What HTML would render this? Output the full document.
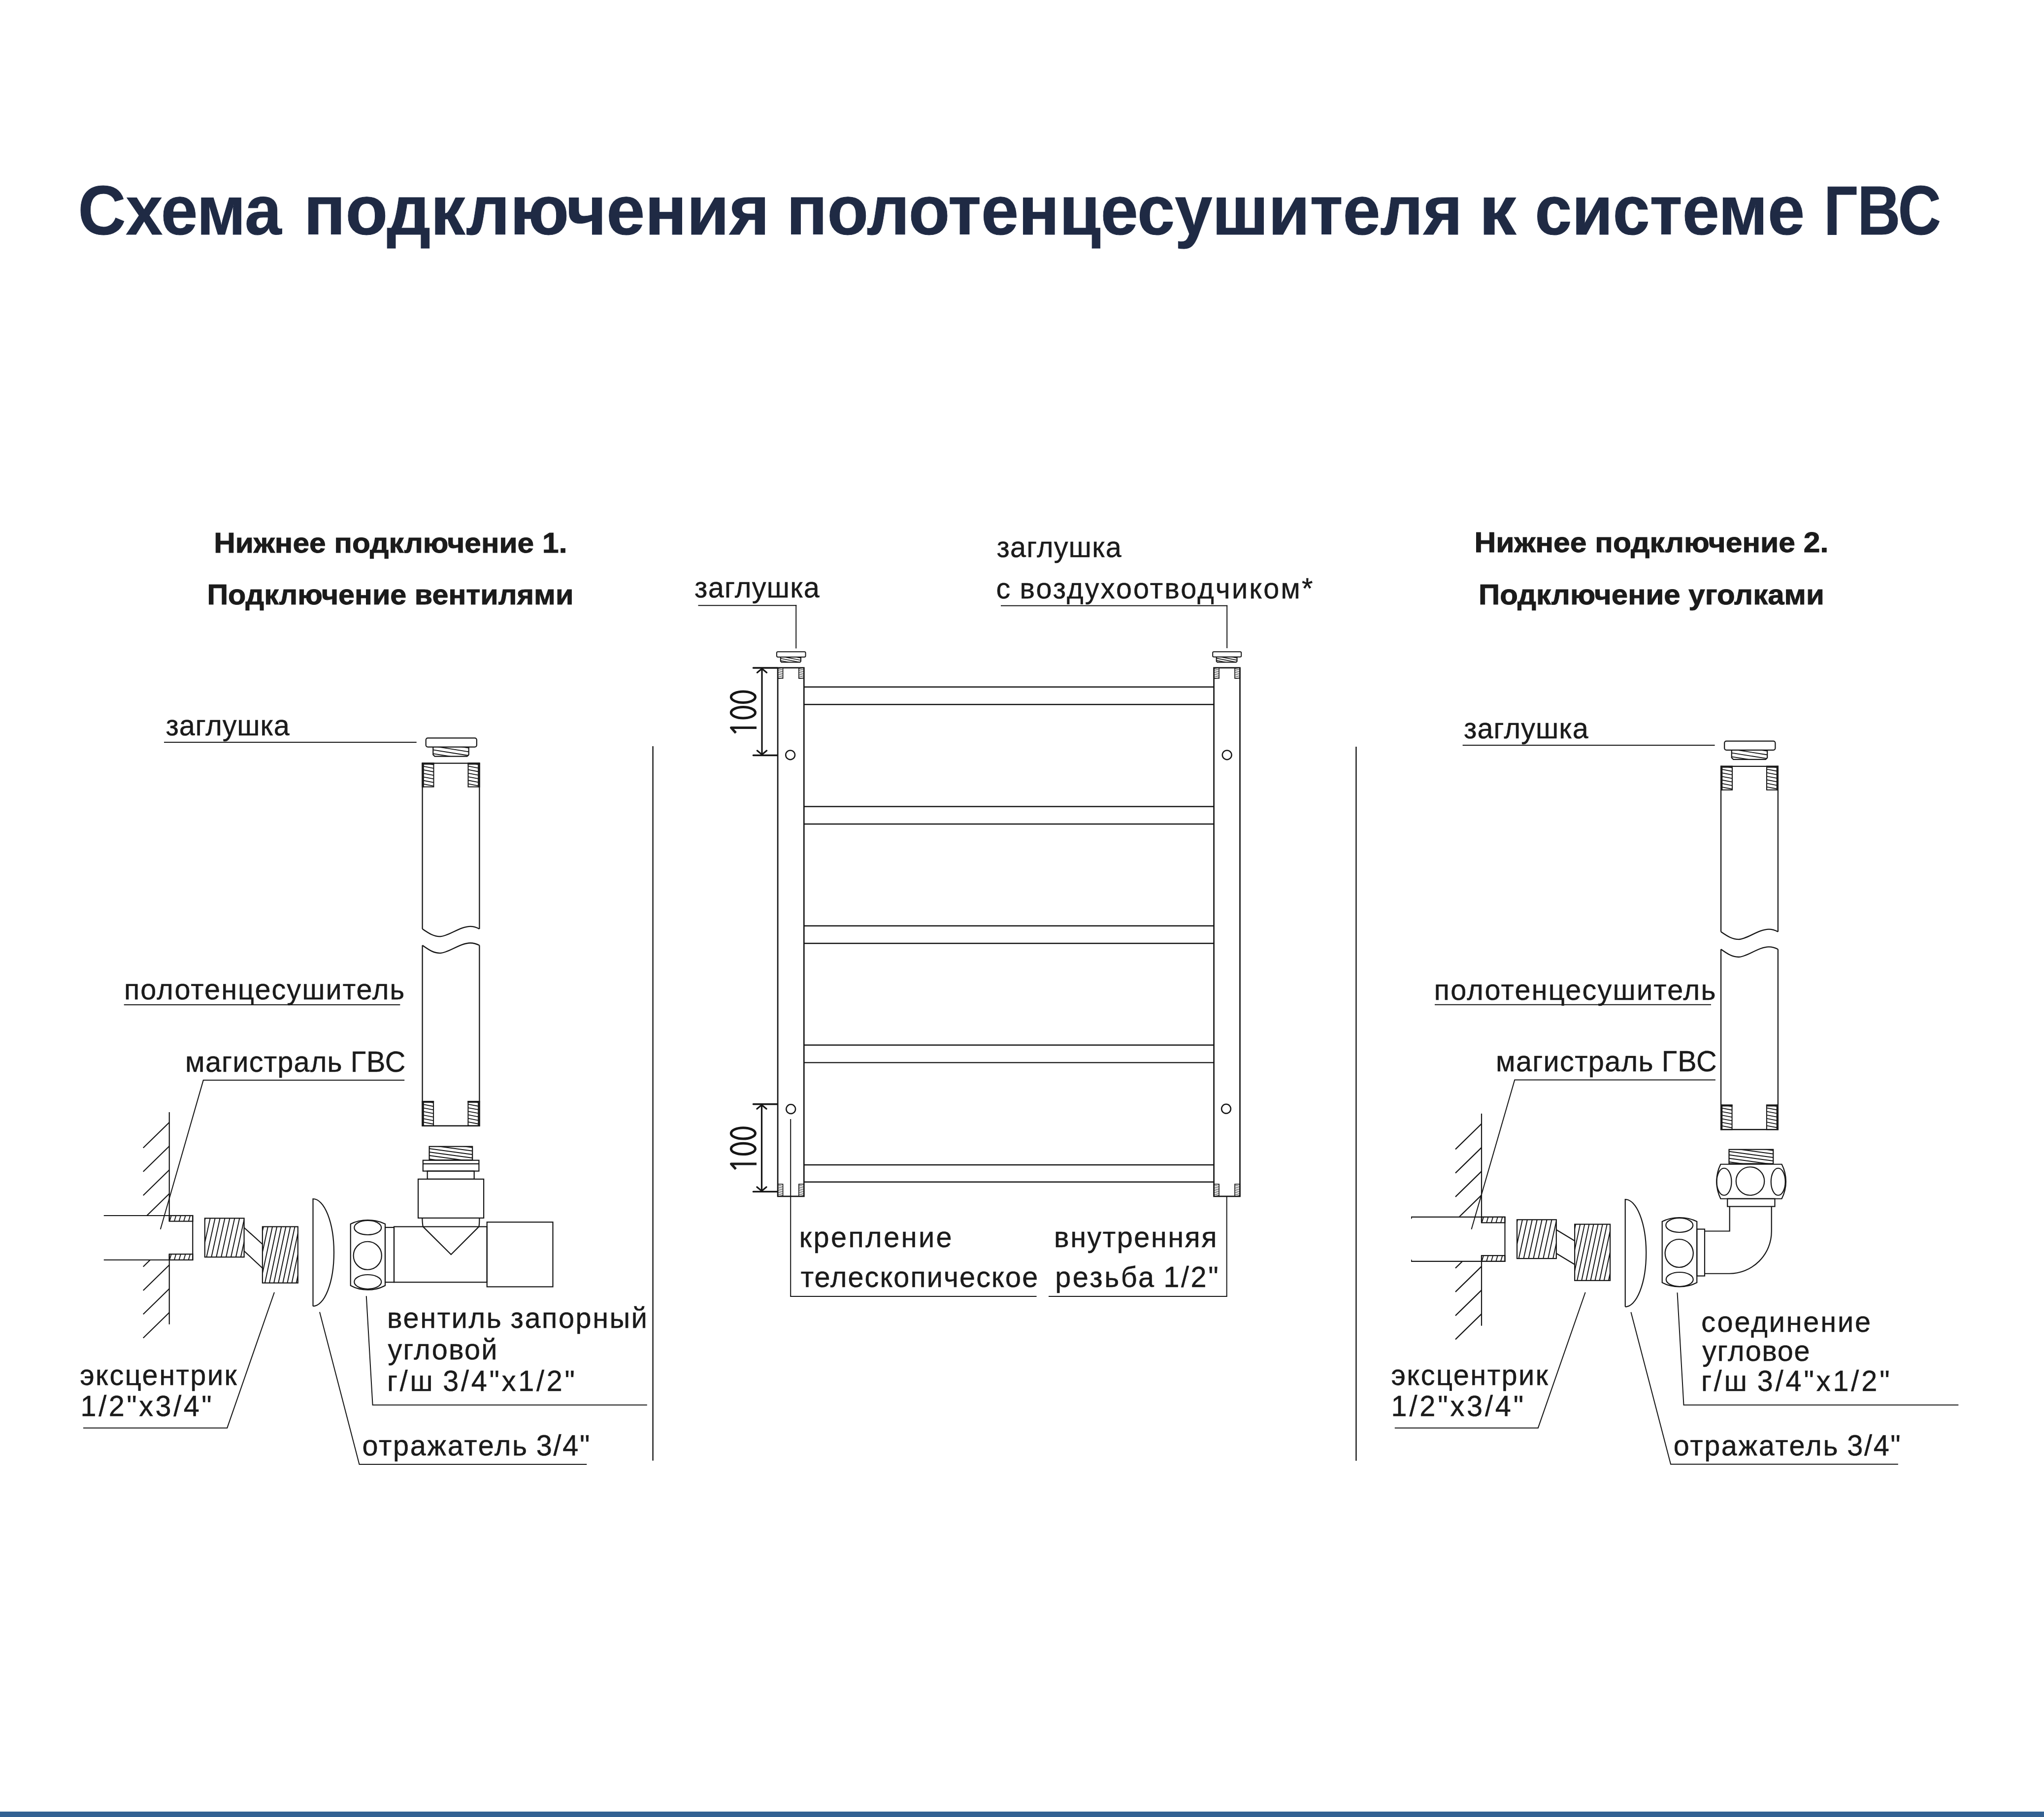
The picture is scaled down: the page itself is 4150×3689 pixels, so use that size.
<!DOCTYPE html>
<html><head><meta charset="utf-8"><title>Схема подключения полотенцесушителя к системе ГВС</title>
<style>
html,body{margin:0;padding:0;background:#fff;}
body{width:4150px;height:3689px;overflow:hidden;}
svg{display:block;font-family:"Liberation Sans",sans-serif;}
</style></head><body>
<svg width="4150" height="3689" viewBox="0 0 4150 3689">
<rect x="0" y="0" width="4150" height="3689" fill="#ffffff"/>
<g fill="none" stroke="#151515" stroke-linejoin="miter">
<text x="158.6" y="475.8" font-size="141" font-weight="bold" fill="#1f2a44" stroke="#1f2a44" stroke-width="1" textLength="412.92" lengthAdjust="spacingAndGlyphs">Схема</text>
<text x="616.7" y="475.8" font-size="141" font-weight="bold" fill="#1f2a44" stroke="#1f2a44" stroke-width="1" textLength="945.58" lengthAdjust="spacingAndGlyphs">подключения</text>
<text x="1596.9" y="475.8" font-size="141" font-weight="bold" fill="#1f2a44" stroke="#1f2a44" stroke-width="1" textLength="1372.42" lengthAdjust="spacingAndGlyphs">полотенцесушителя</text>
<text x="3002.7" y="475.8" font-size="141" font-weight="bold" fill="#1f2a44" stroke="#1f2a44" stroke-width="1" textLength="75.66" lengthAdjust="spacingAndGlyphs">к</text>
<text x="3116.3" y="475.8" font-size="141" font-weight="bold" fill="#1f2a44" stroke="#1f2a44" stroke-width="1" textLength="547.7" lengthAdjust="spacingAndGlyphs">системе</text>
<text x="3703" y="475.8" font-size="141" font-weight="bold" fill="#1f2a44" stroke="#1f2a44" stroke-width="1" textLength="237.9" lengthAdjust="spacingAndGlyphs">ГВС</text>
<text x="434.2" y="1121.6" font-size="58" font-weight="bold" fill="#1b1b1b" stroke="#1b1b1b" stroke-width="1" textLength="717.25" lengthAdjust="spacingAndGlyphs">Нижнее подключение 1.</text>
<text x="420.5" y="1227.3" font-size="58" font-weight="bold" fill="#1b1b1b" stroke="#1b1b1b" stroke-width="1" textLength="743.85" lengthAdjust="spacingAndGlyphs">Подключение вентилями</text>
<text x="2993.5" y="1121.3" font-size="58" font-weight="bold" fill="#1b1b1b" stroke="#1b1b1b" stroke-width="1" textLength="718.84" lengthAdjust="spacingAndGlyphs">Нижнее подключение 2.</text>
<text x="3002" y="1226.5" font-size="58" font-weight="bold" fill="#1b1b1b" stroke="#1b1b1b" stroke-width="1" textLength="701.88" lengthAdjust="spacingAndGlyphs">Подключение уголками</text>
<line x1="1325.6" y1="1515" x2="1325.6" y2="2965.5" stroke-width="2.4"/>
<line x1="2753.4" y1="1516" x2="2753.4" y2="2965.7" stroke-width="2.4"/>
<clipPath id="c1"><rect x="879.3" y="1516.6" width="72.4" height="19"/></clipPath>
<path clip-path="url(#c1)" d="M879.3,1499.32L951.7,1510.9M879.3,1507.02L951.7,1518.6M879.3,1514.72L951.7,1526.3M879.3,1522.42L951.7,1534M879.3,1530.12L951.7,1541.7M879.3,1537.82L951.7,1549.4M879.3,1545.52L951.7,1557.1M879.3,1553.22L951.7,1564.8" stroke-width="1.87"/>
<path d="M879.3,1516.6 V1532.18 L882.72,1535.6 H948.28 L951.7,1532.18 V1516.6" stroke-width="2.2"/>
<rect x="864.7" y="1498.4" width="103.2" height="18.2" stroke-width="2.2" rx="4"/>
<path d="M857.6,1886 V1549.6 H973.4 V1886" stroke-width="2.3"/>
<path d="M857.6,1886 C871.5,1895.55 880.76,1901.4 893.5,1901.4 C909.71,1901.4 934.03,1880.8 954.87,1880.8 C962.98,1880.8 968.77,1883.4 973.4,1886" stroke-width="2.3"/>
<path d="M857.6,1919.3 V2285.75 H973.4 V1919.3" stroke-width="2.3"/>
<path d="M857.6,1919.3 C871.5,1929.1 880.76,1935.1 893.5,1935.1 C909.71,1935.1 934.03,1914.5 954.87,1914.5 C962.98,1914.5 968.77,1916.9 973.4,1919.3" stroke-width="2.3"/>
<clipPath id="c2"><rect x="857.6" y="1549.6" width="22.9" height="47.9"/></clipPath>
<path clip-path="url(#c2)" d="M857.6,1541.05L880.5,1545.4M857.6,1548.25L880.5,1552.6M857.6,1555.45L880.5,1559.8M857.6,1562.65L880.5,1567M857.6,1569.85L880.5,1574.2M857.6,1577.05L880.5,1581.4M857.6,1584.25L880.5,1588.6M857.6,1591.45L880.5,1595.8M857.6,1598.65L880.5,1603M857.6,1605.85L880.5,1610.2" stroke-width="1.8"/>
<rect x="857.6" y="1549.6" width="22.9" height="47.9" stroke-width="2"/>
<rect x="856.6" y="1548.6" width="4.2" height="49.9" fill="#1b1b1b" stroke="none"/>
<rect x="856.6" y="1548.6" width="24.9" height="3.88" fill="#1b1b1b" stroke="none"/>
<clipPath id="c3"><rect x="950.5" y="1549.6" width="22.9" height="47.9"/></clipPath>
<path clip-path="url(#c3)" d="M950.5,1541.05L973.4,1545.4M950.5,1548.25L973.4,1552.6M950.5,1555.45L973.4,1559.8M950.5,1562.65L973.4,1567M950.5,1569.85L973.4,1574.2M950.5,1577.05L973.4,1581.4M950.5,1584.25L973.4,1588.6M950.5,1591.45L973.4,1595.8M950.5,1598.65L973.4,1603M950.5,1605.85L973.4,1610.2" stroke-width="1.8"/>
<rect x="950.5" y="1549.6" width="22.9" height="47.9" stroke-width="2"/>
<rect x="970.2" y="1548.6" width="4.2" height="49.9" fill="#1b1b1b" stroke="none"/>
<rect x="949.5" y="1548.6" width="24.9" height="3.88" fill="#1b1b1b" stroke="none"/>
<clipPath id="c4"><rect x="857.6" y="2236.05" width="22.5" height="49.7"/></clipPath>
<path clip-path="url(#c4)" d="M857.6,2227.58L880.1,2231.85M857.6,2234.78L880.1,2239.05M857.6,2241.97L880.1,2246.25M857.6,2249.17L880.1,2253.45M857.6,2256.37L880.1,2260.65M857.6,2263.57L880.1,2267.85M857.6,2270.77L880.1,2275.05M857.6,2277.97L880.1,2282.25M857.6,2285.17L880.1,2289.45M857.6,2292.37L880.1,2296.65" stroke-width="1.8"/>
<rect x="857.6" y="2236.05" width="22.5" height="49.7" stroke-width="2"/>
<rect x="856.6" y="2235.05" width="4.2" height="51.7" fill="#1b1b1b" stroke="none"/>
<rect x="856.6" y="2235.05" width="24.5" height="3.88" fill="#1b1b1b" stroke="none"/>
<clipPath id="c5"><rect x="950.4" y="2236.05" width="23" height="49.7"/></clipPath>
<path clip-path="url(#c5)" d="M950.4,2227.48L973.4,2231.85M950.4,2234.68L973.4,2239.05M950.4,2241.88L973.4,2246.25M950.4,2249.08L973.4,2253.45M950.4,2256.28L973.4,2260.65M950.4,2263.48L973.4,2267.85M950.4,2270.68L973.4,2275.05M950.4,2277.88L973.4,2282.25M950.4,2285.08L973.4,2289.45M950.4,2292.28L973.4,2296.65" stroke-width="1.8"/>
<rect x="950.4" y="2236.05" width="23" height="49.7" stroke-width="2"/>
<rect x="970.2" y="2235.05" width="4.2" height="51.7" fill="#1b1b1b" stroke="none"/>
<rect x="949.4" y="2235.05" width="25" height="3.88" fill="#1b1b1b" stroke="none"/>
<line x1="343.75" y1="2258" x2="343.75" y2="2479.5" stroke-width="2.2"/>
<line x1="343.75" y1="2546.25" x2="343.75" y2="2688.75" stroke-width="2.2"/>
<clipPath id="c6"><path d="M200,2200H343.75V2466.9H200Z M200,2559.1H343.75V2760H200Z"/></clipPath>
<path clip-path="url(#c6)" d="M343.75,2278.75L290.75,2330.5M343.75,2327L290.75,2378.75M343.75,2375.25L290.75,2427M343.75,2423.5L290.75,2475.25M343.75,2471.75L290.75,2523.5M343.75,2520L290.75,2571.75M343.75,2568.25L290.75,2620M343.75,2616.5L290.75,2668.25M343.75,2664.75L290.75,2716.5" stroke-width="2.2"/>
<line x1="210.75" y1="2468" x2="391.25" y2="2468" stroke-width="2.2"/>
<line x1="210.75" y1="2558" x2="391.25" y2="2558" stroke-width="2.2"/>
<line x1="391.25" y1="2466.9" x2="391.25" y2="2559.1" stroke-width="2.2"/>
<clipPath id="c7"><rect x="343.75" y="2468" width="47.5" height="11.5"/></clipPath>
<path clip-path="url(#c7)" d="M334.7,2479.5L338.15,2468M344.3,2479.5L347.75,2468M353.9,2479.5L357.35,2468M363.5,2479.5L366.95,2468M373.1,2479.5L376.55,2468M382.7,2479.5L386.15,2468M392.3,2479.5L395.75,2468M401.9,2479.5L405.35,2468" stroke-width="1.87"/>
<rect x="343.75" y="2468" width="47.5" height="11.5" stroke-width="2.2"/>
<clipPath id="c8"><rect x="343.75" y="2546.25" width="47.5" height="11.75"/></clipPath>
<path clip-path="url(#c8)" d="M334.62,2558L338.15,2546.25M344.23,2558L347.75,2546.25M353.83,2558L357.35,2546.25M363.43,2558L366.95,2546.25M373.03,2558L376.55,2546.25M382.63,2558L386.15,2546.25M392.23,2558L395.75,2546.25M401.83,2558L405.35,2546.25" stroke-width="1.87"/>
<rect x="343.75" y="2546.25" width="47.5" height="11.75" stroke-width="2.2"/>
<clipPath id="c9"><rect x="415.8" y="2473.4" width="79.8" height="78.8"/></clipPath>
<path clip-path="url(#c9)" d="M389.53,2552.2L406.87,2473.4M399.46,2552.2L416.8,2473.4M409.39,2552.2L426.73,2473.4M419.32,2552.2L436.66,2473.4M429.25,2552.2L446.59,2473.4M439.18,2552.2L456.52,2473.4M449.11,2552.2L466.45,2473.4M459.04,2552.2L476.38,2473.4M468.97,2552.2L486.31,2473.4M478.9,2552.2L496.24,2473.4M488.83,2552.2L506.17,2473.4M498.76,2552.2L516.1,2473.4M508.69,2552.2L526.03,2473.4M518.62,2552.2L535.96,2473.4" stroke-width="1.98"/>
<rect x="415.8" y="2473.4" width="79.8" height="78.8" stroke-width="2.2"/>
<line x1="495.75" y1="2492.5" x2="532.5" y2="2525.75" stroke-width="2.2"/>
<line x1="495.75" y1="2540" x2="532.5" y2="2574.25" stroke-width="2.2"/>
<clipPath id="c10"><rect x="532.9" y="2490.5" width="71.9" height="114.2"/></clipPath>
<path clip-path="url(#c10)" d="M501.48,2604.7L525.8,2490.5M510.58,2604.7L534.9,2490.5M519.68,2604.7L544,2490.5M528.78,2604.7L553.1,2490.5M537.88,2604.7L562.2,2490.5M546.98,2604.7L571.3,2490.5M556.08,2604.7L580.4,2490.5M565.18,2604.7L589.5,2490.5M574.28,2604.7L598.6,2490.5M583.38,2604.7L607.7,2490.5M592.48,2604.7L616.8,2490.5M601.58,2604.7L625.9,2490.5M610.68,2604.7L635,2490.5M619.78,2604.7L644.1,2490.5M628.88,2604.7L653.2,2490.5M637.98,2604.7L662.3,2490.5" stroke-width="1.98"/>
<rect x="532.9" y="2490.5" width="71.9" height="114.2" stroke-width="2.2"/>
<path d="M635.5,2652 V2434 A42.5,109 0 0 1 635.5,2652" stroke-width="2.2"/>
<clipPath id="c11"><rect x="871.6" y="2327.7" width="87.6" height="27.5"/></clipPath>
<path clip-path="url(#c11)" d="M871.6,2310.6L959.2,2322.6M871.6,2317.7L959.2,2329.7M871.6,2324.8L959.2,2336.8M871.6,2331.9L959.2,2343.9M871.6,2339L959.2,2351M871.6,2346.1L959.2,2358.1M871.6,2353.2L959.2,2365.2M871.6,2360.3L959.2,2372.3M871.6,2367.4L959.2,2379.4" stroke-width="1.98"/>
<rect x="871.6" y="2327.7" width="87.6" height="27.5" stroke-width="2.2"/>
<rect x="858.8" y="2355.7" width="113.6" height="21.9" stroke-width="2.2"/>
<line x1="858.8" y1="2362.9" x2="972.4" y2="2362.9" stroke-width="2.2"/>
<rect x="867.7" y="2377.6" width="95" height="16.3" stroke-width="2.2"/>
<rect x="849" y="2393.9" width="133.1" height="79" stroke-width="2.2"/>
<path d="M857.3,2473 Q857.6,2484 858.8,2490.4 L915.75,2547 L972.4,2490.4 Q973.4,2484 973.4,2473" stroke-width="2.2"/>
<rect x="800" y="2490.5" width="188.75" height="112.75" stroke-width="2.2"/>
<rect x="782" y="2492" width="18" height="111.25" stroke-width="2.2"/>
<path d="M711.75,2485 Q727.5,2477 746.75,2477 Q766.14,2477 782,2485 V2610 Q766.14,2618.75 746.75,2618.75 Q727.5,2618.75 711.75,2610 Z" stroke-width="2.2"/>
<ellipse cx="746.75" cy="2492.5" rx="27.5" ry="14.5" stroke-width="2.2"/>
<ellipse cx="746.25" cy="2549.25" rx="28.6" ry="28.5" stroke-width="2.2"/>
<ellipse cx="746.75" cy="2602.5" rx="27.5" ry="14.5" stroke-width="2.2"/>
<rect x="988.75" y="2481.25" width="133.75" height="131.25" stroke-width="2.2"/>
<line x1="333" y1="1506.9" x2="845.7" y2="1506.9" stroke-width="2"/>
<line x1="251.7" y1="2040.1" x2="812.4" y2="2040.1" stroke-width="2"/>
<path d="M821.2,2193.1 L412.8,2193.1 L325.75,2495.75" stroke-width="2"/>
<path d="M557,2623.75 L461.2,2899.2 L169,2899.2" stroke-width="2"/>
<path d="M649,2663.75 L729.5,2973 L1191.3,2973" stroke-width="2"/>
<path d="M743.75,2631.25 L756.6,2852.4 L1313.8,2852.4" stroke-width="2"/>
<text transform="translate(336.5,1492.9) scale(0.96,1)" x="0" y="0" font-size="60" fill="#1b1b1b" stroke="#1b1b1b" stroke-width="0.5" letter-spacing="0.896" word-spacing="-0.896">заглушка</text>
<text transform="translate(252.1,2029) scale(0.96,1)" x="0" y="0" font-size="60" fill="#1b1b1b" stroke="#1b1b1b" stroke-width="0.5" letter-spacing="2.147" word-spacing="-2.147">полотенцесушитель</text>
<text transform="translate(376.1,2176.3) scale(0.96,1)" x="0" y="0" font-size="60" fill="#1b1b1b" stroke="#1b1b1b" stroke-width="0.5" letter-spacing="1.252" word-spacing="-1.252">магистраль ГВС</text>
<text transform="translate(162.2,2811.7) scale(0.96,1)" x="0" y="0" font-size="60" fill="#1b1b1b" stroke="#1b1b1b" stroke-width="0.5" letter-spacing="2.621" word-spacing="-2.621">эксцентрик</text>
<text transform="translate(163.6,2874.8) scale(0.96,1)" x="0" y="0" font-size="60" fill="#1b1b1b" stroke="#1b1b1b" stroke-width="0.5" letter-spacing="4.736" word-spacing="-4.736">1/2&quot;x3/4&quot;</text>
<text transform="translate(786,2695.7) scale(0.96,1)" x="0" y="0" font-size="60" fill="#1b1b1b" stroke="#1b1b1b" stroke-width="0.5" letter-spacing="2.750" word-spacing="-2.750">вентиль запорный</text>
<text transform="translate(787.5,2760.2) scale(0.96,1)" x="0" y="0" font-size="60" fill="#1b1b1b" stroke="#1b1b1b" stroke-width="0.5" letter-spacing="2.262" word-spacing="-2.262">угловой</text>
<text transform="translate(786,2824.4) scale(0.96,1)" x="0" y="0" font-size="60" fill="#1b1b1b" stroke="#1b1b1b" stroke-width="0.5" letter-spacing="4.918" word-spacing="-4.918">г/ш 3/4&quot;x1/2&quot;</text>
<text transform="translate(735.5,2954.8) scale(0.96,1)" x="0" y="0" font-size="60" fill="#1b1b1b" stroke="#1b1b1b" stroke-width="0.5" letter-spacing="2.842" word-spacing="-2.842">отражатель 3/4&quot;</text>
<line x1="1632.3" y1="1394.7" x2="2464.6" y2="1394.7" stroke-width="2.4"/>
<line x1="1632.3" y1="1430.2" x2="2464.6" y2="1430.2" stroke-width="2.4"/>
<line x1="1632.3" y1="1637.5" x2="2464.6" y2="1637.5" stroke-width="2.4"/>
<line x1="1632.3" y1="1673" x2="2464.6" y2="1673" stroke-width="2.4"/>
<line x1="1632.3" y1="1879.7" x2="2464.6" y2="1879.7" stroke-width="2.4"/>
<line x1="1632.3" y1="1915.2" x2="2464.6" y2="1915.2" stroke-width="2.4"/>
<line x1="1632.3" y1="2121.8" x2="2464.6" y2="2121.8" stroke-width="2.4"/>
<line x1="1632.3" y1="2157.4" x2="2464.6" y2="2157.4" stroke-width="2.4"/>
<line x1="1632.3" y1="2365" x2="2464.6" y2="2365" stroke-width="2.4"/>
<line x1="1632.3" y1="2399.8" x2="2464.6" y2="2399.8" stroke-width="2.4"/>
<clipPath id="c12"><rect x="1579.1" y="1355.8" width="10.5" height="21.5"/></clipPath>
<path clip-path="url(#c12)" d="M1579.1,1350.58L1589.6,1353.2M1579.1,1354.17L1589.6,1356.8M1579.1,1357.77L1589.6,1360.4M1579.1,1361.37L1589.6,1364M1579.1,1364.97L1589.6,1367.6M1579.1,1368.57L1589.6,1371.2M1579.1,1372.17L1589.6,1374.8M1579.1,1375.77L1589.6,1378.4M1579.1,1379.37L1589.6,1382M1579.1,1382.97L1589.6,1385.6" stroke-width="1"/>
<rect x="1579.1" y="1355.8" width="10.5" height="21.5" stroke-width="1.6"/>
<clipPath id="c13"><rect x="1579.1" y="2404.2" width="10.5" height="24.7"/></clipPath>
<path clip-path="url(#c13)" d="M1579.1,2398.98L1589.6,2401.6M1579.1,2402.58L1589.6,2405.2M1579.1,2406.18L1589.6,2408.8M1579.1,2409.78L1589.6,2412.4M1579.1,2413.38L1589.6,2416M1579.1,2416.97L1589.6,2419.6M1579.1,2420.57L1589.6,2423.2M1579.1,2424.17L1589.6,2426.8M1579.1,2427.77L1589.6,2430.4M1579.1,2431.37L1589.6,2434M1579.1,2434.97L1589.6,2437.6" stroke-width="1"/>
<rect x="1579.1" y="2404.2" width="10.5" height="24.7" stroke-width="1.6"/>
<clipPath id="c14"><rect x="1621.8" y="1355.8" width="10.5" height="21.5"/></clipPath>
<path clip-path="url(#c14)" d="M1621.8,1350.58L1632.3,1353.2M1621.8,1354.17L1632.3,1356.8M1621.8,1357.77L1632.3,1360.4M1621.8,1361.37L1632.3,1364M1621.8,1364.97L1632.3,1367.6M1621.8,1368.57L1632.3,1371.2M1621.8,1372.17L1632.3,1374.8M1621.8,1375.77L1632.3,1378.4M1621.8,1379.37L1632.3,1382M1621.8,1382.97L1632.3,1385.6" stroke-width="1"/>
<rect x="1621.8" y="1355.8" width="10.5" height="21.5" stroke-width="1.6"/>
<clipPath id="c15"><rect x="1621.8" y="2404.2" width="10.5" height="24.7"/></clipPath>
<path clip-path="url(#c15)" d="M1621.8,2398.98L1632.3,2401.6M1621.8,2402.58L1632.3,2405.2M1621.8,2406.18L1632.3,2408.8M1621.8,2409.78L1632.3,2412.4M1621.8,2413.38L1632.3,2416M1621.8,2416.97L1632.3,2419.6M1621.8,2420.57L1632.3,2423.2M1621.8,2424.17L1632.3,2426.8M1621.8,2427.77L1632.3,2430.4M1621.8,2431.37L1632.3,2434M1621.8,2434.97L1632.3,2437.6" stroke-width="1"/>
<rect x="1621.8" y="2404.2" width="10.5" height="24.7" stroke-width="1.6"/>
<clipPath id="c16"><rect x="2464.6" y="1355.8" width="10.5" height="21.5"/></clipPath>
<path clip-path="url(#c16)" d="M2464.6,1350.58L2475.1,1353.2M2464.6,1354.17L2475.1,1356.8M2464.6,1357.77L2475.1,1360.4M2464.6,1361.37L2475.1,1364M2464.6,1364.97L2475.1,1367.6M2464.6,1368.57L2475.1,1371.2M2464.6,1372.17L2475.1,1374.8M2464.6,1375.77L2475.1,1378.4M2464.6,1379.37L2475.1,1382M2464.6,1382.97L2475.1,1385.6" stroke-width="1"/>
<rect x="2464.6" y="1355.8" width="10.5" height="21.5" stroke-width="1.6"/>
<clipPath id="c17"><rect x="2464.6" y="2404.2" width="10.5" height="24.7"/></clipPath>
<path clip-path="url(#c17)" d="M2464.6,2398.98L2475.1,2401.6M2464.6,2402.58L2475.1,2405.2M2464.6,2406.18L2475.1,2408.8M2464.6,2409.78L2475.1,2412.4M2464.6,2413.38L2475.1,2416M2464.6,2416.97L2475.1,2419.6M2464.6,2420.57L2475.1,2423.2M2464.6,2424.17L2475.1,2426.8M2464.6,2427.77L2475.1,2430.4M2464.6,2431.37L2475.1,2434M2464.6,2434.97L2475.1,2437.6" stroke-width="1"/>
<rect x="2464.6" y="2404.2" width="10.5" height="24.7" stroke-width="1.6"/>
<clipPath id="c18"><rect x="2507" y="1355.8" width="10.5" height="21.5"/></clipPath>
<path clip-path="url(#c18)" d="M2507,1350.58L2517.5,1353.2M2507,1354.17L2517.5,1356.8M2507,1357.77L2517.5,1360.4M2507,1361.37L2517.5,1364M2507,1364.97L2517.5,1367.6M2507,1368.57L2517.5,1371.2M2507,1372.17L2517.5,1374.8M2507,1375.77L2517.5,1378.4M2507,1379.37L2517.5,1382M2507,1382.97L2517.5,1385.6" stroke-width="1"/>
<rect x="2507" y="1355.8" width="10.5" height="21.5" stroke-width="1.6"/>
<clipPath id="c19"><rect x="2507" y="2404.2" width="10.5" height="24.7"/></clipPath>
<path clip-path="url(#c19)" d="M2507,2398.98L2517.5,2401.6M2507,2402.58L2517.5,2405.2M2507,2406.18L2517.5,2408.8M2507,2409.78L2517.5,2412.4M2507,2413.38L2517.5,2416M2507,2416.97L2517.5,2419.6M2507,2420.57L2517.5,2423.2M2507,2424.17L2517.5,2426.8M2507,2427.77L2517.5,2430.4M2507,2431.37L2517.5,2434M2507,2434.97L2517.5,2437.6" stroke-width="1"/>
<rect x="2507" y="2404.2" width="10.5" height="24.7" stroke-width="1.6"/>
<rect x="1579.1" y="1355.8" width="53.2" height="1073.1" stroke-width="2.7"/>
<rect x="2464.6" y="1355.8" width="52.9" height="1073.1" stroke-width="2.7"/>
<clipPath id="c20"><rect x="1584.8" y="1334" width="41.2" height="10.4"/></clipPath>
<path clip-path="url(#c20)" d="M1584.8,1323.26L1626,1331.5M1584.8,1327.76L1626,1336M1584.8,1332.26L1626,1340.5M1584.8,1336.76L1626,1345M1584.8,1341.26L1626,1349.5M1584.8,1345.76L1626,1354M1584.8,1350.26L1626,1358.5M1584.8,1354.76L1626,1363" stroke-width="1.7"/>
<path d="M1584.8,1334 V1342.53 L1586.67,1344.4 H1624.13 L1626,1342.53 V1334" stroke-width="2"/>
<rect x="1577" y="1323.2" width="58.6" height="10.8" stroke-width="2" rx="2.38"/>
<clipPath id="c21"><rect x="2469.7" y="1333.8" width="41.9" height="10.6"/></clipPath>
<path clip-path="url(#c21)" d="M2469.7,1322.92L2511.6,1331.3M2469.7,1327.42L2511.6,1335.8M2469.7,1331.92L2511.6,1340.3M2469.7,1336.42L2511.6,1344.8M2469.7,1340.92L2511.6,1349.3M2469.7,1345.42L2511.6,1353.8M2469.7,1349.92L2511.6,1358.3M2469.7,1354.42L2511.6,1362.8" stroke-width="1.7"/>
<path d="M2469.7,1333.8 V1342.49 L2471.61,1344.4 H2509.69 L2511.6,1342.49 V1333.8" stroke-width="2"/>
<rect x="2462.2" y="1323.2" width="58" height="10.6" stroke-width="2" rx="2.33"/>
<circle cx="1604.6" cy="1532.8" r="9.4" stroke-width="2.5"/>
<circle cx="2491.2" cy="1532.8" r="9.4" stroke-width="2.5"/>
<circle cx="1605.7" cy="2251.7" r="9.4" stroke-width="2.5"/>
<circle cx="2489.5" cy="2251.2" r="9.4" stroke-width="2.5"/>
<line x1="1417.5" y1="1229.2" x2="1617.3" y2="1229.2" stroke-width="2"/>
<line x1="1616.25" y1="1228.2" x2="1616.25" y2="1316.5" stroke-width="2"/>
<line x1="2032" y1="1229.8" x2="2492.2" y2="1229.8" stroke-width="2"/>
<line x1="2491.2" y1="1228.8" x2="2491.2" y2="1316" stroke-width="2"/>
<line x1="1529.4" y1="1356" x2="1578" y2="1356" stroke-width="3.4" stroke-linecap="round"/>
<line x1="1529.4" y1="1533.5" x2="1578" y2="1533.5" stroke-width="3.4" stroke-linecap="round"/>
<line x1="1547" y1="1357" x2="1547" y2="1532.5" stroke-width="3.2"/>
<path d="M1537.4,1365.5 L1547,1357.5 L1556.6,1365.5" stroke-width="3.2" stroke-linecap="round"/>
<path d="M1537.4,1524 L1547,1532 L1556.6,1524" stroke-width="3.2" stroke-linecap="round"/>
<line x1="1529.4" y1="2241.8" x2="1578" y2="2241.8" stroke-width="3.4" stroke-linecap="round"/>
<line x1="1529.4" y1="2419.4" x2="1578" y2="2419.4" stroke-width="3.4" stroke-linecap="round"/>
<line x1="1546.5" y1="2242.8" x2="1546.5" y2="2418.4" stroke-width="3.2"/>
<path d="M1536.9,2251.3 L1546.5,2243.3 L1556.1,2251.3" stroke-width="3.2" stroke-linecap="round"/>
<path d="M1536.9,2409.9 L1546.5,2417.9 L1556.1,2409.9" stroke-width="3.2" stroke-linecap="round"/>
<ellipse cx="1508.9" cy="1415.3" rx="24.6" ry="11.2" stroke-width="5"/>
<ellipse cx="1508.9" cy="1446.8" rx="24.6" ry="11.2" stroke-width="5"/>
<path d="M1536,1477.4 H1484.5 L1494,1488" stroke-width="5" stroke="#1b1b1b" stroke-linejoin="round"/>
<ellipse cx="1508.9" cy="2300.9" rx="24.6" ry="11.2" stroke-width="5"/>
<ellipse cx="1508.9" cy="2332.4" rx="24.6" ry="11.2" stroke-width="5"/>
<path d="M1536,2363 H1484.5 L1494,2373.6" stroke-width="5" stroke="#1b1b1b" stroke-linejoin="round"/>
<line x1="1605.2" y1="2271.9" x2="1605.2" y2="2632" stroke-width="2"/>
<line x1="1604.2" y1="2632" x2="2104.6" y2="2632" stroke-width="2"/>
<line x1="2490.7" y1="2430" x2="2490.7" y2="2632" stroke-width="2"/>
<line x1="2129" y1="2632" x2="2491.7" y2="2632" stroke-width="2"/>
<text transform="translate(1410,1213) scale(0.96,1)" x="0" y="0" font-size="60" fill="#1b1b1b" stroke="#1b1b1b" stroke-width="0.5" letter-spacing="1.283" word-spacing="-1.283">заглушка</text>
<text transform="translate(2023.5,1131) scale(0.96,1)" x="0" y="0" font-size="60" fill="#1b1b1b" stroke="#1b1b1b" stroke-width="0.5" letter-spacing="1.194" word-spacing="-1.194">заглушка</text>
<text transform="translate(2022.5,1215) scale(0.96,1)" x="0" y="0" font-size="60" fill="#1b1b1b" stroke="#1b1b1b" stroke-width="0.5" letter-spacing="3.214" word-spacing="-3.214">с воздухоотводчиком*</text>
<text transform="translate(1622.7,2531.9) scale(0.96,1)" x="0" y="0" font-size="60" fill="#1b1b1b" stroke="#1b1b1b" stroke-width="0.5" letter-spacing="3.630" word-spacing="-3.630">крепление</text>
<text transform="translate(1625.7,2612.6) scale(0.96,1)" x="0" y="0" font-size="60" fill="#1b1b1b" stroke="#1b1b1b" stroke-width="0.5" letter-spacing="2.178" word-spacing="-2.178">телескопическое</text>
<text transform="translate(2140,2531.9) scale(0.96,1)" x="0" y="0" font-size="60" fill="#1b1b1b" stroke="#1b1b1b" stroke-width="0.5" letter-spacing="2.657" word-spacing="-2.657">внутренняя</text>
<text transform="translate(2142.3,2612.6) scale(0.96,1)" x="0" y="0" font-size="60" fill="#1b1b1b" stroke="#1b1b1b" stroke-width="0.5" letter-spacing="3.696" word-spacing="-3.696">резьба 1/2&quot;</text>
<g transform="translate(2636.5,6.2)">
<clipPath id="c22"><rect x="879.3" y="1516.6" width="72.4" height="19"/></clipPath>
<path clip-path="url(#c22)" d="M879.3,1499.32L951.7,1510.9M879.3,1507.02L951.7,1518.6M879.3,1514.72L951.7,1526.3M879.3,1522.42L951.7,1534M879.3,1530.12L951.7,1541.7M879.3,1537.82L951.7,1549.4M879.3,1545.52L951.7,1557.1M879.3,1553.22L951.7,1564.8" stroke-width="1.87"/>
<path d="M879.3,1516.6 V1532.18 L882.72,1535.6 H948.28 L951.7,1532.18 V1516.6" stroke-width="2.2"/>
<rect x="864.7" y="1498.4" width="103.2" height="18.2" stroke-width="2.2" rx="4"/>
</g>
<path d="M3494.1,1891.8 V1555.8 H3609.9 V1891.8" stroke-width="2.3"/>
<path d="M3494.1,1891.8 C3508,1901.35 3517.26,1907.2 3530,1907.2 C3546.21,1907.2 3570.53,1886.6 3591.37,1886.6 C3599.48,1886.6 3605.27,1889.2 3609.9,1891.8" stroke-width="2.3"/>
<path d="M3494.1,1927.2 V2293.25 H3609.9 V1927.2" stroke-width="2.3"/>
<path d="M3494.1,1927.2 C3508,1937 3517.26,1943 3530,1943 C3546.21,1943 3570.53,1922.4 3591.37,1922.4 C3599.48,1922.4 3605.27,1924.8 3609.9,1927.2" stroke-width="2.3"/>
<clipPath id="c23"><rect x="3494.1" y="1555.8" width="22.9" height="47.9"/></clipPath>
<path clip-path="url(#c23)" d="M3494.1,1547.25L3517,1551.6M3494.1,1554.45L3517,1558.8M3494.1,1561.65L3517,1566M3494.1,1568.85L3517,1573.2M3494.1,1576.05L3517,1580.4M3494.1,1583.25L3517,1587.6M3494.1,1590.45L3517,1594.8M3494.1,1597.65L3517,1602M3494.1,1604.85L3517,1609.2M3494.1,1612.05L3517,1616.4" stroke-width="1.8"/>
<rect x="3494.1" y="1555.8" width="22.9" height="47.9" stroke-width="2"/>
<rect x="3493.1" y="1554.8" width="4.2" height="49.9" fill="#1b1b1b" stroke="none"/>
<rect x="3493.1" y="1554.8" width="24.9" height="3.88" fill="#1b1b1b" stroke="none"/>
<clipPath id="c24"><rect x="3587" y="1555.8" width="22.9" height="47.9"/></clipPath>
<path clip-path="url(#c24)" d="M3587,1547.25L3609.9,1551.6M3587,1554.45L3609.9,1558.8M3587,1561.65L3609.9,1566M3587,1568.85L3609.9,1573.2M3587,1576.05L3609.9,1580.4M3587,1583.25L3609.9,1587.6M3587,1590.45L3609.9,1594.8M3587,1597.65L3609.9,1602M3587,1604.85L3609.9,1609.2M3587,1612.05L3609.9,1616.4" stroke-width="1.8"/>
<rect x="3587" y="1555.8" width="22.9" height="47.9" stroke-width="2"/>
<rect x="3606.7" y="1554.8" width="4.2" height="49.9" fill="#1b1b1b" stroke="none"/>
<rect x="3586" y="1554.8" width="24.9" height="3.88" fill="#1b1b1b" stroke="none"/>
<clipPath id="c25"><rect x="3494.1" y="2243.55" width="22.5" height="49.7"/></clipPath>
<path clip-path="url(#c25)" d="M3494.1,2235.08L3516.6,2239.35M3494.1,2242.28L3516.6,2246.55M3494.1,2249.47L3516.6,2253.75M3494.1,2256.67L3516.6,2260.95M3494.1,2263.87L3516.6,2268.15M3494.1,2271.07L3516.6,2275.35M3494.1,2278.27L3516.6,2282.55M3494.1,2285.47L3516.6,2289.75M3494.1,2292.67L3516.6,2296.95M3494.1,2299.87L3516.6,2304.15" stroke-width="1.8"/>
<rect x="3494.1" y="2243.55" width="22.5" height="49.7" stroke-width="2"/>
<rect x="3493.1" y="2242.55" width="4.2" height="51.7" fill="#1b1b1b" stroke="none"/>
<rect x="3493.1" y="2242.55" width="24.5" height="3.88" fill="#1b1b1b" stroke="none"/>
<clipPath id="c26"><rect x="3586.9" y="2243.55" width="23" height="49.7"/></clipPath>
<path clip-path="url(#c26)" d="M3586.9,2234.98L3609.9,2239.35M3586.9,2242.18L3609.9,2246.55M3586.9,2249.38L3609.9,2253.75M3586.9,2256.58L3609.9,2260.95M3586.9,2263.78L3609.9,2268.15M3586.9,2270.98L3609.9,2275.35M3586.9,2278.18L3609.9,2282.55M3586.9,2285.38L3609.9,2289.75M3586.9,2292.58L3609.9,2296.95M3586.9,2299.78L3609.9,2304.15" stroke-width="1.8"/>
<rect x="3586.9" y="2243.55" width="23" height="49.7" stroke-width="2"/>
<rect x="3606.7" y="2242.55" width="4.2" height="51.7" fill="#1b1b1b" stroke="none"/>
<rect x="3585.9" y="2242.55" width="25" height="3.88" fill="#1b1b1b" stroke="none"/>
<g transform="translate(2664.25,2.9)">
<line x1="343.75" y1="2258" x2="343.75" y2="2479.5" stroke-width="2.2"/>
<line x1="343.75" y1="2546.25" x2="343.75" y2="2688.75" stroke-width="2.2"/>
<clipPath id="c27"><path d="M200,2200H343.75V2466.9H200Z M200,2559.1H343.75V2760H200Z"/></clipPath>
<path clip-path="url(#c27)" d="M343.75,2278.75L290.75,2330.5M343.75,2327L290.75,2378.75M343.75,2375.25L290.75,2427M343.75,2423.5L290.75,2475.25M343.75,2471.75L290.75,2523.5M343.75,2520L290.75,2571.75M343.75,2568.25L290.75,2620M343.75,2616.5L290.75,2668.25M343.75,2664.75L290.75,2716.5" stroke-width="2.2"/>
<line x1="200.75" y1="2468" x2="391.25" y2="2468" stroke-width="2.2"/>
<line x1="200.75" y1="2558" x2="391.25" y2="2558" stroke-width="2.2"/>
<line x1="201.55" y1="2467" x2="201.55" y2="2471.5" stroke-width="1.6"/>
<line x1="201.55" y1="2554.5" x2="201.55" y2="2559" stroke-width="1.6"/>
<line x1="391.25" y1="2466.9" x2="391.25" y2="2559.1" stroke-width="2.2"/>
<clipPath id="c28"><rect x="343.75" y="2468" width="47.5" height="11.5"/></clipPath>
<path clip-path="url(#c28)" d="M334.7,2479.5L338.15,2468M344.3,2479.5L347.75,2468M353.9,2479.5L357.35,2468M363.5,2479.5L366.95,2468M373.1,2479.5L376.55,2468M382.7,2479.5L386.15,2468M392.3,2479.5L395.75,2468M401.9,2479.5L405.35,2468" stroke-width="1.87"/>
<rect x="343.75" y="2468" width="47.5" height="11.5" stroke-width="2.2"/>
<clipPath id="c29"><rect x="343.75" y="2546.25" width="47.5" height="11.75"/></clipPath>
<path clip-path="url(#c29)" d="M334.62,2558L338.15,2546.25M344.23,2558L347.75,2546.25M353.83,2558L357.35,2546.25M363.43,2558L366.95,2546.25M373.03,2558L376.55,2546.25M382.63,2558L386.15,2546.25M392.23,2558L395.75,2546.25M401.83,2558L405.35,2546.25" stroke-width="1.87"/>
<rect x="343.75" y="2546.25" width="47.5" height="11.75" stroke-width="2.2"/>
<clipPath id="c30"><rect x="415.8" y="2473.4" width="79.8" height="78.8"/></clipPath>
<path clip-path="url(#c30)" d="M389.53,2552.2L406.87,2473.4M399.46,2552.2L416.8,2473.4M409.39,2552.2L426.73,2473.4M419.32,2552.2L436.66,2473.4M429.25,2552.2L446.59,2473.4M439.18,2552.2L456.52,2473.4M449.11,2552.2L466.45,2473.4M459.04,2552.2L476.38,2473.4M468.97,2552.2L486.31,2473.4M478.9,2552.2L496.24,2473.4M488.83,2552.2L506.17,2473.4M498.76,2552.2L516.1,2473.4M508.69,2552.2L526.03,2473.4M518.62,2552.2L535.96,2473.4" stroke-width="1.98"/>
<rect x="415.8" y="2473.4" width="79.8" height="78.8" stroke-width="2.2"/>
<line x1="496.05" y1="2494.1" x2="532.5" y2="2516.1" stroke-width="2.2"/>
<line x1="496.05" y1="2542.1" x2="532.5" y2="2564.1" stroke-width="2.2"/>
<clipPath id="c31"><rect x="532.9" y="2482.7" width="71.9" height="114.2"/></clipPath>
<path clip-path="url(#c31)" d="M501.48,2596.9L525.8,2482.7M510.58,2596.9L534.9,2482.7M519.68,2596.9L544,2482.7M528.78,2596.9L553.1,2482.7M537.88,2596.9L562.2,2482.7M546.98,2596.9L571.3,2482.7M556.08,2596.9L580.4,2482.7M565.18,2596.9L589.5,2482.7M574.28,2596.9L598.6,2482.7M583.38,2596.9L607.7,2482.7M592.48,2596.9L616.8,2482.7M601.58,2596.9L625.9,2482.7M610.68,2596.9L635,2482.7M619.78,2596.9L644.1,2482.7M628.88,2596.9L653.2,2482.7M637.98,2596.9L662.3,2482.7" stroke-width="1.98"/>
<rect x="532.9" y="2482.7" width="71.9" height="114.2" stroke-width="2.2"/>
<path d="M635.5,2650.2 V2432.2 A42.5,109 0 0 1 635.5,2650.2" stroke-width="2.2"/>
</g>
<clipPath id="c32"><rect x="3510.5" y="2333.75" width="89.75" height="28.75"/></clipPath>
<path clip-path="url(#c32)" d="M3510.5,2316.35L3600.25,2328.65M3510.5,2323.45L3600.25,2335.75M3510.5,2330.55L3600.25,2342.85M3510.5,2337.65L3600.25,2349.95M3510.5,2344.75L3600.25,2357.05M3510.5,2351.85L3600.25,2364.15M3510.5,2358.95L3600.25,2371.25M3510.5,2366.05L3600.25,2378.35M3510.5,2373.15L3600.25,2385.45M3510.5,2380.25L3600.25,2392.55" stroke-width="1.98"/>
<rect x="3510.5" y="2333.75" width="89.75" height="28.75" stroke-width="2.2"/>
<path d="M3493.5,2363.75 H3617.5 Q3626,2380 3626,2398.75 Q3626,2417 3617.5,2433.75 H3493.5 Q3485.25,2417 3485.25,2398.75 Q3485.25,2380 3493.5,2363.75 Z" stroke-width="2.2"/>
<ellipse cx="3500.5" cy="2399.25" rx="15" ry="27.5" stroke-width="2.2"/>
<ellipse cx="3553.5" cy="2398" rx="28.75" ry="28.75" stroke-width="2.2"/>
<ellipse cx="3610.25" cy="2399.25" rx="14.5" ry="27.5" stroke-width="2.2"/>
<rect x="3507.25" y="2433.75" width="96.25" height="15.75" stroke-width="2.2"/>
<path d="M3511.75,2449.5 V2499.5 H3461" stroke-width="2.2"/>
<path d="M3596.75,2449.5 V2500 A85.75,85.75 0 0 1 3511,2585.75 H3461" stroke-width="2.2"/>
<rect x="3445.25" y="2495.5" width="15.75" height="95" stroke-width="2.2"/>
<path d="M3374.75,2480 Q3390.5,2472 3409.75,2472 Q3429.28,2472 3445.25,2480 V2604 Q3429.28,2612.5 3409.75,2612.5 Q3390.5,2612.5 3374.75,2604 Z" stroke-width="2.2"/>
<ellipse cx="3409.75" cy="2487.5" rx="27.5" ry="14.5" stroke-width="2.2"/>
<ellipse cx="3409.25" cy="2544.5" rx="28.6" ry="28.5" stroke-width="2.2"/>
<ellipse cx="3410.25" cy="2597.5" rx="27.5" ry="14.5" stroke-width="2.2"/>
<line x1="2969.6" y1="1512.9" x2="3481.6" y2="1512.9" stroke-width="2"/>
<line x1="2913" y1="2039.7" x2="3474" y2="2039.7" stroke-width="2"/>
<path d="M3482.9,2192.5 L3075.3,2192.5 L2987.5,2495.75" stroke-width="2"/>
<path d="M3218.75,2623.75 L3122.8,2899.2 L2831.8,2899.2" stroke-width="2"/>
<path d="M3311.4,2663.9 L3392.1,2972.8 L3853.8,2972.8" stroke-width="2"/>
<path d="M3405.5,2624.25 L3418.5,2852.4 L3976.3,2852.4" stroke-width="2"/>
<text transform="translate(2972,1499) scale(0.96,1)" x="0" y="0" font-size="60" fill="#1b1b1b" stroke="#1b1b1b" stroke-width="0.5" letter-spacing="1.135" word-spacing="-1.135">заглушка</text>
<text transform="translate(2911.8,2029.5) scale(0.96,1)" x="0" y="0" font-size="60" fill="#1b1b1b" stroke="#1b1b1b" stroke-width="0.5" letter-spacing="2.303" word-spacing="-2.303">полотенцесушитель</text>
<text transform="translate(3037,2175.3) scale(0.96,1)" x="0" y="0" font-size="60" fill="#1b1b1b" stroke="#1b1b1b" stroke-width="0.5" letter-spacing="1.373" word-spacing="-1.373">магистраль ГВС</text>
<text transform="translate(2824.4,2811.7) scale(0.96,1)" x="0" y="0" font-size="60" fill="#1b1b1b" stroke="#1b1b1b" stroke-width="0.5" letter-spacing="2.621" word-spacing="-2.621">эксцентрик</text>
<text transform="translate(2824.6,2875.3) scale(0.96,1)" x="0" y="0" font-size="60" fill="#1b1b1b" stroke="#1b1b1b" stroke-width="0.5" letter-spacing="5.049" word-spacing="-5.049">1/2&quot;x3/4&quot;</text>
<text transform="translate(3454.3,2703.6) scale(0.96,1)" x="0" y="0" font-size="60" fill="#1b1b1b" stroke="#1b1b1b" stroke-width="0.5" letter-spacing="2.998" word-spacing="-2.998">соединение</text>
<text transform="translate(3456.3,2763.4) scale(0.96,1)" x="0" y="0" font-size="60" fill="#1b1b1b" stroke="#1b1b1b" stroke-width="0.5" letter-spacing="1.622" word-spacing="-1.622">угловое</text>
<text transform="translate(3453.9,2824.4) scale(0.96,1)" x="0" y="0" font-size="60" fill="#1b1b1b" stroke="#1b1b1b" stroke-width="0.5" letter-spacing="5.088" word-spacing="-5.088">г/ш 3/4&quot;x1/2&quot;</text>
<text transform="translate(3397.7,2954.8) scale(0.96,1)" x="0" y="0" font-size="60" fill="#1b1b1b" stroke="#1b1b1b" stroke-width="0.5" letter-spacing="2.778" word-spacing="-2.778">отражатель 3/4&quot;</text>
<rect x="0" y="3678" width="4150" height="11" fill="#336193" stroke="none"/>
</g>
</svg>
</body></html>
